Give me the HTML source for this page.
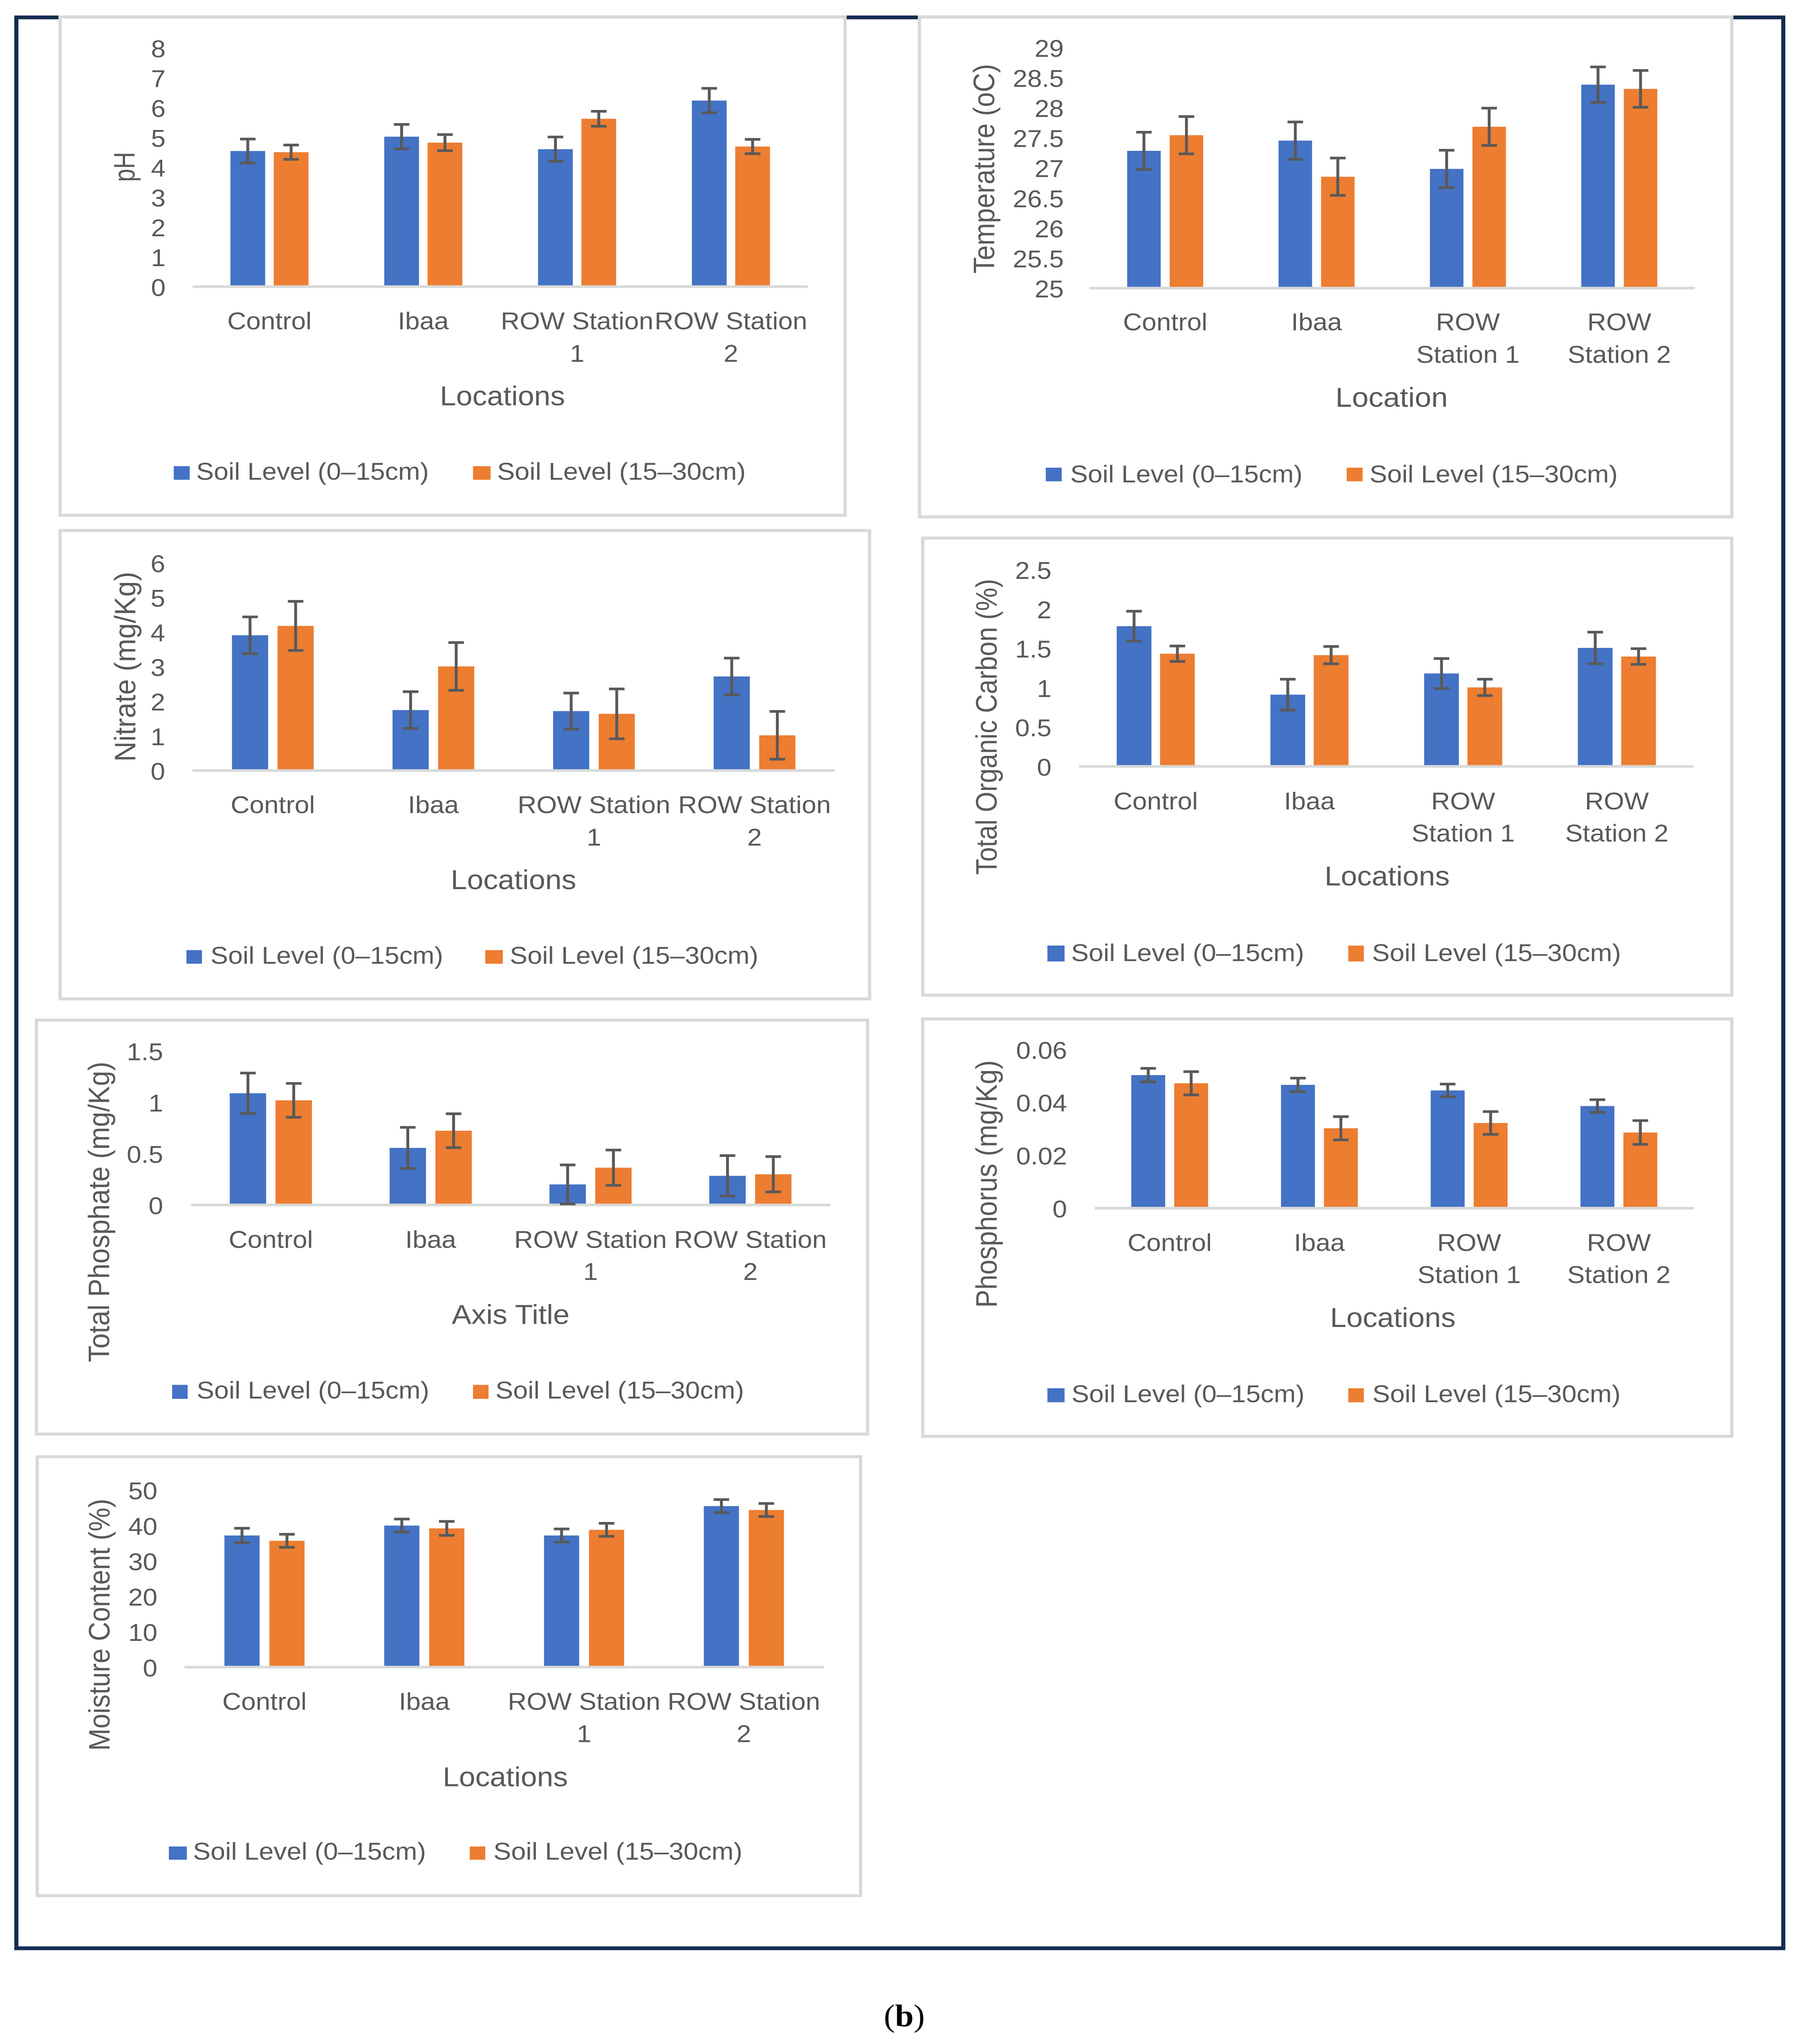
<!DOCTYPE html>
<html lang="en">
<head>
<meta charset="utf-8">
<title>Soil properties by location and soil level</title>
<style>
html,body{margin:0;padding:0;background:#fff;width:100vw;height:100vh;overflow:hidden;}
svg{display:block;position:absolute;left:0;top:0;width:100vw;height:100vh;overflow:hidden;}
text{font-family:"Liberation Sans",Arial,sans-serif;fill:#595959;}
.tick,.cat,.legend-text{font-size:64px;}
.axis-title{font-size:72px;}
.caption{font-family:"Liberation Serif",serif;font-size:82px;fill:#000;}
.frame{fill:#fff;stroke:#d9d9d9;stroke-width:8;}
</style>
</head>
<body>
<svg xmlns="http://www.w3.org/2000/svg" viewBox="0 0 4398 5402" preserveAspectRatio="none">
<rect x="0" y="0" width="4398" height="5402" fill="#fff"/>
<rect x="40" y="46" width="4322" height="5103" fill="none" stroke="#152c52" stroke-width="10"/>

<g id="chart-ph">
<rect class="frame" x="147" y="45" width="1920" height="1317"/>
<text class="axis-title" x="1229" y="1071" text-anchor="middle" textLength="306" lengthAdjust="spacingAndGlyphs">Locations</text>
<text class="axis-title" x="303" y="467" text-anchor="middle" textLength="79" lengthAdjust="spacingAndGlyphs" transform="rotate(-90 303 441)">pH</text>
<rect x="425" y="1232" width="39" height="36" fill="#4472c4"/>
<text class="legend-text" x="480" y="1268" textLength="569" lengthAdjust="spacingAndGlyphs">Soil Level (0–15cm)</text>
<rect x="1157" y="1232" width="43" height="36" fill="#ed7d31"/>
<text class="legend-text" x="1216" y="1268" textLength="608" lengthAdjust="spacingAndGlyphs">Soil Level (15–30cm)</text>
</g>

<g id="chart-temp">
<rect class="frame" x="2249" y="45" width="1987" height="1321"/>
<text class="axis-title" x="3404" y="1075" text-anchor="middle" textLength="275" lengthAdjust="spacingAndGlyphs">Location</text>
<text class="axis-title" x="2406" y="472" text-anchor="middle" textLength="554" lengthAdjust="spacingAndGlyphs" transform="rotate(-90 2406 446)">Temperature (oC)</text>
<rect x="2558" y="1236" width="39" height="36" fill="#4472c4"/>
<text class="legend-text" x="2618" y="1275" textLength="568" lengthAdjust="spacingAndGlyphs">Soil Level (0–15cm)</text>
<rect x="3294" y="1236" width="39" height="36" fill="#ed7d31"/>
<text class="legend-text" x="3350" y="1275" textLength="607" lengthAdjust="spacingAndGlyphs">Soil Level (15–30cm)</text>
</g>

<g id="chart-nitrate">
<rect class="frame" x="147" y="1402" width="1980" height="1238"/>
<text class="axis-title" x="1256" y="2350" text-anchor="middle" textLength="307" lengthAdjust="spacingAndGlyphs">Locations</text>
<text class="axis-title" x="305" y="1788" text-anchor="middle" textLength="502" lengthAdjust="spacingAndGlyphs" transform="rotate(-90 305 1762)">Nitrate  (mg/Kg)</text>
<rect x="456" y="2511" width="38" height="36" fill="#4472c4"/>
<text class="legend-text" x="515" y="2547" textLength="569" lengthAdjust="spacingAndGlyphs">Soil Level (0–15cm)</text>
<rect x="1187" y="2511" width="43" height="36" fill="#ed7d31"/>
<text class="legend-text" x="1247" y="2547" textLength="608" lengthAdjust="spacingAndGlyphs">Soil Level (15–30cm)</text>
</g>

<g id="chart-toc">
<rect class="frame" x="2257" y="1422" width="1979" height="1208"/>
<text class="axis-title" x="3393" y="2340" text-anchor="middle" textLength="306" lengthAdjust="spacingAndGlyphs">Locations</text>
<text class="axis-title" x="2412" y="1947" text-anchor="middle" textLength="782" lengthAdjust="spacingAndGlyphs" transform="rotate(-90 2412 1921)">Total Organic Carbon (%)</text>
<rect x="2562" y="2499" width="42" height="42" fill="#4472c4"/>
<text class="legend-text" x="2620" y="2540" textLength="570" lengthAdjust="spacingAndGlyphs">Soil Level (0–15cm)</text>
<rect x="3298" y="2499" width="38" height="42" fill="#ed7d31"/>
<text class="legend-text" x="3356" y="2540" textLength="609" lengthAdjust="spacingAndGlyphs">Soil Level (15–30cm)</text>
</g>

<g id="chart-tp">
<rect class="frame" x="89" y="2696" width="2033" height="1094"/>
<text class="axis-title" x="1249" y="3499" text-anchor="middle" textLength="288" lengthAdjust="spacingAndGlyphs">Axis Title</text>
<text class="axis-title" x="241" y="3229" text-anchor="middle" textLength="794" lengthAdjust="spacingAndGlyphs" transform="rotate(-90 241 3203)">Total Phosphate  (mg/Kg)</text>
<rect x="421" y="3660" width="38" height="37" fill="#4472c4"/>
<text class="legend-text" x="481" y="3696" textLength="569" lengthAdjust="spacingAndGlyphs">Soil Level (0–15cm)</text>
<rect x="1157" y="3660" width="38" height="37" fill="#ed7d31"/>
<text class="legend-text" x="1212" y="3696" textLength="608" lengthAdjust="spacingAndGlyphs">Soil Level (15–30cm)</text>
</g>

<g id="chart-p">
<rect class="frame" x="2257" y="2693" width="1979" height="1103"/>
<text class="axis-title" x="3407" y="3507" text-anchor="middle" textLength="307" lengthAdjust="spacingAndGlyphs">Locations</text>
<text class="axis-title" x="2412" y="3155" text-anchor="middle" textLength="654" lengthAdjust="spacingAndGlyphs" transform="rotate(-90 2412 3129)">Phosphorus  (mg/Kg)</text>
<rect x="2562" y="3669" width="42" height="37" fill="#4472c4"/>
<text class="legend-text" x="2621" y="3706" textLength="570" lengthAdjust="spacingAndGlyphs">Soil Level (0–15cm)</text>
<rect x="3298" y="3669" width="38" height="37" fill="#ed7d31"/>
<text class="legend-text" x="3357" y="3706" textLength="607" lengthAdjust="spacingAndGlyphs">Soil Level (15–30cm)</text>
</g>

<g id="chart-moisture">
<rect class="frame" x="91" y="3850" width="2014" height="1160"/>
<text class="axis-title" x="1236" y="4721" text-anchor="middle" textLength="306" lengthAdjust="spacingAndGlyphs">Locations</text>
<text class="axis-title" x="242" y="4320" text-anchor="middle" textLength="666" lengthAdjust="spacingAndGlyphs" transform="rotate(-90 242 4294)">Moisture Content (%)</text>
<rect x="413" y="4880" width="44" height="35" fill="#4472c4"/>
<text class="legend-text" x="472" y="4915" textLength="570" lengthAdjust="spacingAndGlyphs">Soil Level (0–15cm)</text>
<rect x="1149" y="4880" width="38" height="35" fill="#ed7d31"/>
<text class="legend-text" x="1207" y="4915" textLength="609" lengthAdjust="spacingAndGlyphs">Soil Level (15–30cm)</text>
</g>

<text class="caption" x="2212" y="5355" text-anchor="middle">(<tspan font-weight="bold">b</tspan>)</text>
</svg>

<script>
// Category labels (line-wrapped as printed)
const categoriesWide = [["Control"], ["Ibaa"], ["ROW Station", "1"], ["ROW Station", "2"]];
const categoriesNarrow = [["Control"], ["Ibaa"], ["ROW", "Station 1"], ["ROW", "Station 2"]];

// pH
const phTicks = ["0", "1", "2", "3", "4", "5", "6", "7", "8"];
const phUpper = [4.5, 4.98, 4.56, 6.19];
const phLower = [4.46, 4.78, 5.58, 4.65];
const phUpperErr = [0.4, 0.41, 0.41, 0.41];
const phLowerErr = [0.24, 0.27, 0.25, 0.24];

// Temperature
const tempTicks = ["25", "25.5", "26", "26.5", "27", "27.5", "28", "28.5", "29"];
const tempUpper = [27.26, 27.43, 26.96, 28.36];
const tempLower = [27.52, 26.83, 27.66, 28.29];
const tempUpperErr = [0.31, 0.31, 0.31, 0.295];
const tempLowerErr = [0.31, 0.31, 0.31, 0.306];

// Nitrate
const nitrateTicks = ["0", "1", "2", "3", "4", "5", "6"];
const nitrateUpper = [3.87, 1.71, 1.68, 2.68];
const nitrateLower = [4.14, 2.97, 1.6, 0.98];
const nitrateUpperErr = [0.53, 0.53, 0.52, 0.53];
const nitrateLowerErr = [0.71, 0.69, 0.72, 0.69];

// Total organic carbon
const tocTicks = ["0", "0.5", "1", "1.5", "2", "2.5"];
const tocUpper = [1.765, 0.895, 1.164, 1.489];
const tocLower = [1.415, 1.397, 0.987, 1.379];
const tocUpperErr = [0.19, 0.196, 0.19, 0.2];
const tocLowerErr = [0.098, 0.11, 0.104, 0.1];

// Total phosphate
const tpTicks = ["0", "0.5", "1", "1.5"];
const tpUpper = [1.075, 0.543, 0.187, 0.271];
const tpLower = [1.006, 0.71, 0.35, 0.286];
const tpUpperErr = [0.197, 0.2, 0.19, 0.197];
const tpLowerErr = [0.165, 0.165, 0.172, 0.172];

// Phosphorus
const pTicks = ["0", "0.02", "0.04", "0.06"];
const pUpper = [0.0498, 0.0461, 0.044, 0.0381];
const pLower = [0.0467, 0.0297, 0.0317, 0.0281];
const pUpperErr = [0.00255, 0.00255, 0.0024, 0.0024];
const pLowerErr = [0.0044, 0.0044, 0.0043, 0.0045];

// Moisture content
const moistureTicks = ["0", "10", "20", "30", "40", "50"];
const moistureUpper = [36.8, 39.6, 36.8, 45.1];
const moistureLower = [35.3, 38.8, 38.4, 44];
const moistureUpperErr = [2.04, 1.84, 1.84, 1.84];
const moistureLowerErr = [1.84, 1.97, 1.84, 1.84];

const SVG_NS = "http://www.w3.org/2000/svg";
const BLUE = "#4472c4";
const ORANGE = "#ed7d31";
const GREY = "#595959";

function drawChart(groupId, slug, box, ticks, cats, upper, lower, upperErr, lowerErr) {
  const group = document.getElementById(groupId);
  const tickValues = ticks.map(Number);
  const minV = tickValues[0];
  const maxV = tickValues[tickValues.length - 1];
  const yScale = function (v) { return box.base - (v - minV) / (maxV - minV) * (box.base - box.top); };
  const catW = (box.right - box.left) / cats.length;
  const xCenter = function (i) { return box.left + catW * (i + 0.5); };

  const axis = document.createElementNS(SVG_NS, "rect");
  axis.setAttribute("x", box.left);
  axis.setAttribute("y", box.base);
  axis.setAttribute("width", box.right - box.left);
  axis.setAttribute("height", 7);
  axis.setAttribute("fill", "#d9d9d9");
  
  
  group.appendChild(axis);

  ticks.forEach(function (label, i) {
    const t = document.createElementNS(SVG_NS, "text");
    t.setAttribute("class", "tick");
    t.setAttribute("x", box.tickRight);
    t.setAttribute("y", yScale(tickValues[i]) + 28);
    t.setAttribute("text-anchor", "end");
    
    
    t.textContent = label;
    group.appendChild(t);
  });

  cats.forEach(function (lines, i) {
    lines.forEach(function (line, j) {
      const t = document.createElementNS(SVG_NS, "text");
      t.setAttribute("class", "cat");
      t.setAttribute("x", xCenter(i));
      t.setAttribute("y", (j === 0 ? box.line1 : box.line2) + 23);
      t.setAttribute("text-anchor", "middle");
      
      
      t.textContent = line;
      group.appendChild(t);
    });
  });

  const series = [
    { key: "0-15cm", values: upper, errs: upperErr, color: BLUE, dir: -1 },
    { key: "15-30cm", values: lower, errs: lowerErr, color: ORANGE, dir: 1 }
  ];
  series.forEach(function (s) {
    s.values.forEach(function (v, i) {
      const cx = xCenter(i) + s.dir * (box.gap / 2 + box.barW / 2);
      const top = yScale(v);

      const bar = document.createElementNS(SVG_NS, "rect");
      bar.setAttribute("x", cx - box.barW / 2);
      bar.setAttribute("y", top);
      bar.setAttribute("width", box.barW);
      bar.setAttribute("height", box.base - top);
      bar.setAttribute("fill", s.color);
      
      
      group.appendChild(bar);

      const hi = yScale(v + s.errs[i]);
      const lo = yScale(v - s.errs[i]);
      const err = document.createElementNS(SVG_NS, "path");
      err.setAttribute("d", "M" + cx + " " + hi + "V" + lo + "M" + (cx - 19) + " " + hi + "H" + (cx + 19) + "M" + (cx - 19) + " " + lo + "H" + (cx + 19));
      err.setAttribute("fill", "none");
      err.setAttribute("stroke", GREY);
      err.setAttribute("stroke-width", 7);
      
      
      group.appendChild(err);
    });
  });
}

drawChart("chart-ph", "ph",
  { left: 471, right: 1976, base: 754, top: 123, barW: 85, gap: 21, tickRight: 405, line1: 847, line2: 933 },
  phTicks, categoriesWide, phUpper, phLower, phUpperErr, phLowerErr);
drawChart("chart-temp", "temperature",
  { left: 2665, right: 4146, base: 758, top: 122, barW: 82, gap: 22, tickRight: 2602, line1: 850, line2: 936 },
  tempTicks, categoriesNarrow, tempUpper, tempLower, tempUpperErr, tempLowerErr);
drawChart("chart-nitrate", "nitrate",
  { left: 471, right: 2042, base: 2033, top: 1484, barW: 88.5, gap: 23, tickRight: 404, line1: 2126, line2: 2212 },
  nitrateTicks, categoriesWide, nitrateUpper, nitrateLower, nitrateUpperErr, nitrateLowerErr);
drawChart("chart-toc", "toc",
  { left: 2639, right: 4143, base: 2022, top: 1502, barW: 85, gap: 21, tickRight: 2572, line1: 2116, line2: 2201 },
  tocTicks, categoriesNarrow, tocUpper, tocLower, tocUpperErr, tocLowerErr);
drawChart("chart-tp", "tp",
  { left: 467, right: 2031, base: 3181, top: 2774, barW: 89, gap: 23, tickRight: 399, line1: 3275, line2: 3360 },
  tpTicks, categoriesWide, tpUpper, tpLower, tpUpperErr, tpLowerErr);
drawChart("chart-p", "phosphorus",
  { left: 2678, right: 4143, base: 3189.5, top: 2770, barW: 83, gap: 22, tickRight: 2610, line1: 3283, line2: 3368 },
  pTicks, categoriesNarrow, pUpper, pLower, pUpperErr, pLowerErr);
drawChart("chart-moisture", "moisture",
  { left: 451.5, right: 2015, base: 4402.5, top: 3934.5, barW: 86, gap: 24, tickRight: 385, line1: 4496, line2: 4581 },
  moistureTicks, categoriesWide, moistureUpper, moistureLower, moistureUpperErr, moistureLowerErr);
</script>
</body>
</html>
